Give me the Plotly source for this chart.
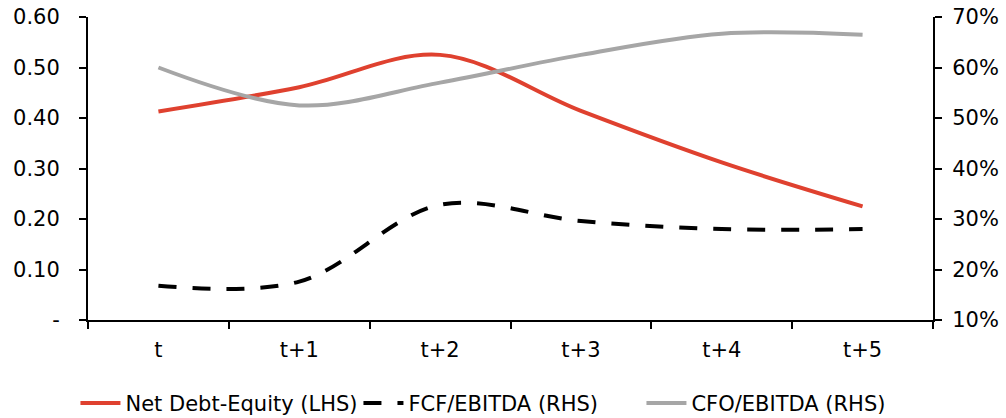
import plotly.graph_objects as go
from plotly.subplots import make_subplots

categories = ["t", "t+1", "t+2", "t+3", "t+4", "t+5"]
net_debt_equity = [0.413, 0.461, 0.525, 0.414, 0.312, 0.225]
fcf_ebitda = [0.168, 0.176, 0.328, 0.296, 0.280, 0.280]
cfo_ebitda = [0.600, 0.525, 0.570, 0.625, 0.667, 0.665]

left_ticks = [0, 0.1, 0.2, 0.3, 0.4, 0.5, 0.6]
left_labels = ["-", "0.10", "0.20", "0.30", "0.40", "0.50", "0.60"]
right_ticks = [0.1, 0.2, 0.3, 0.4, 0.5, 0.6, 0.7]
right_labels = ["10%", "20%", "30%", "40%", "50%", "60%", "70%"]

FONT = "DejaVu Sans"
FS = 21

fig = make_subplots(specs=[[{"secondary_y": True}]])
fig.add_trace(go.Scatter(x=categories, y=net_debt_equity, name="Net Debt-Equity (LHS)",
                         mode="lines", line=dict(color="#df412f", width=4, shape="spline", smoothing=1.0)),
              secondary_y=False)
fig.add_trace(go.Scatter(x=categories, y=fcf_ebitda, name="FCF/EBITDA (RHS)",
                         mode="lines", line=dict(color="#000000", width=4, dash="18px,16px",
                                                 shape="spline", smoothing=1.0)),
              secondary_y=True)
fig.add_trace(go.Scatter(x=categories, y=cfo_ebitda, name="CFO/EBITDA (RHS)",
                         mode="lines", line=dict(color="#a6a6a6", width=4, shape="spline", smoothing=1.0)),
              secondary_y=True)

fig.update_layout(
    width=1006, height=418,
    margin=dict(l=88, r=73, t=17, b=98, autoexpand=False),
    paper_bgcolor="white", plot_bgcolor="white",
    font=dict(family=FONT, size=FS, color="black"),
    showlegend=True,
    legend=dict(orientation="h", x=0.075, xanchor="left", xref="container",
                y=0.035, yanchor="middle", yref="container",
                font=dict(family=FONT, size=FS, color="black"), itemwidth=40, tracegroupgap=0,
                entrywidth=228, entrywidthmode="pixels"),
)
fig.update_layout(xaxis=dict(domain=[0, 1]))
fig.update_xaxes(type="category", range=[-0.5, 5.5], showline=True, linecolor="black", linewidth=2,
                 ticks="outside", tickson="boundaries", ticklen=7, tickcolor="black", tickwidth=1.5,
                 ticklabelstandoff=10, showgrid=False, zeroline=False, fixedrange=True, automargin=False)
fig.update_yaxes(range=[0, 0.6], tickvals=left_ticks, ticktext=left_labels, showline=True,
                 linecolor="black", linewidth=2, ticks="outside", ticklen=7, tickcolor="black",
                 tickwidth=1.5, ticklabelstandoff=15, showgrid=False, zeroline=False,
                 automargin=False, secondary_y=False)
fig.update_yaxes(range=[0.1, 0.7], tickvals=right_ticks, ticktext=right_labels, showline=True,
                 linecolor="black", linewidth=2, ticks="outside", ticklen=7, tickcolor="black",
                 tickwidth=1.5, ticklabelstandoff=6, showgrid=False, zeroline=False,
                 automargin=False, secondary_y=True)

fig.write_html("out.html")
